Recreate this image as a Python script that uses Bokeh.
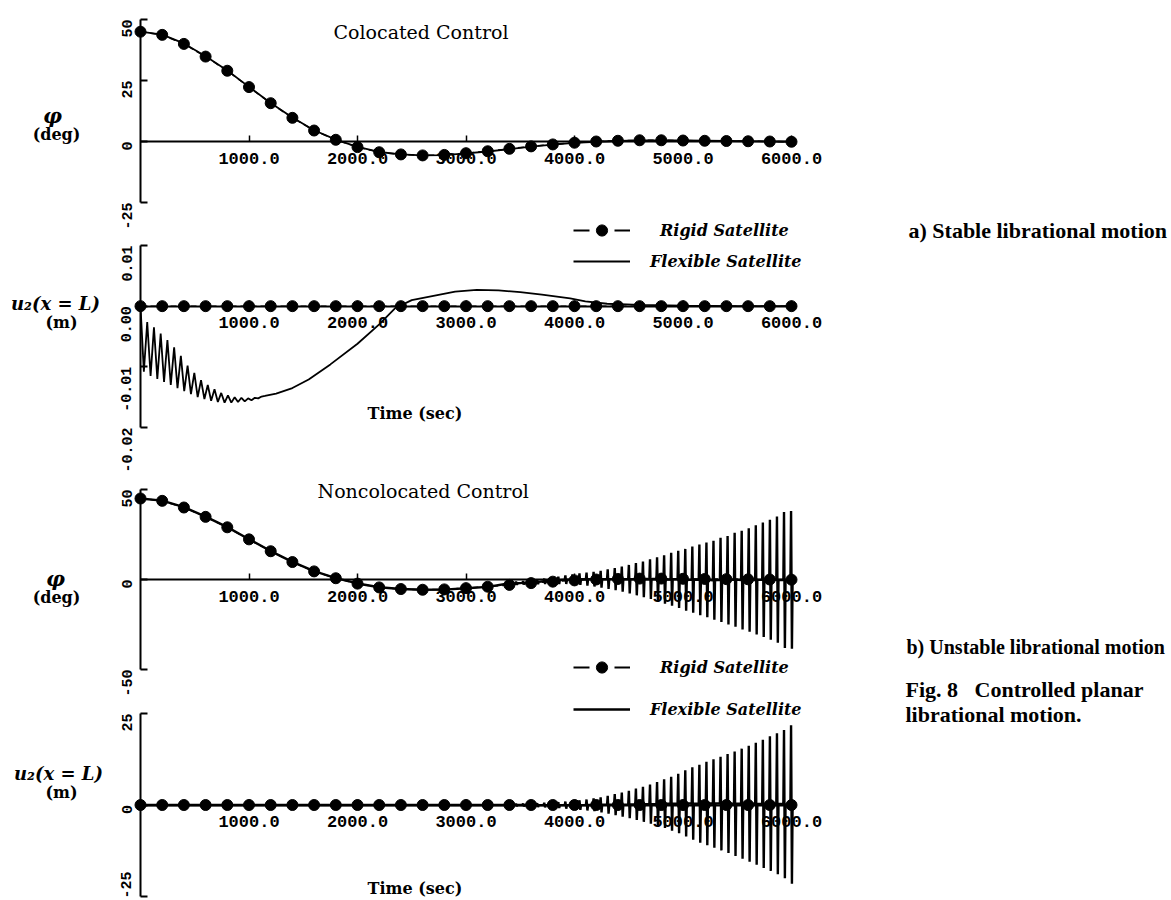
import math
import numpy as np
from bokeh.plotting import figure
from bokeh.models import Range1d, LinearAxis, FixedTicker, Label, Legend, LegendItem
from bokeh.embed import file_html
from bokeh.resources import INLINE

# ------------------------------------------------------------------ data
# rigid satellite samples (one marker every 200 s)
t_rigid = [0, 200, 400, 600, 800, 1000, 1200, 1400, 1600, 1800, 2000, 2200, 2400,
           2600, 2800, 3000, 3200, 3400, 3600, 3800, 4000, 4200, 4400, 4600, 4800,
           5000, 5200, 5400, 5600, 5800, 6000]
phi_rigid = [45.0, 43.7, 40.0, 34.8, 29.0, 22.3, 15.7, 9.7, 4.5, 0.7, -2.3, -4.4, -5.3,
             -5.7, -5.5, -4.8, -4.0, -3.0, -2.0, -1.2, -0.5, 0.0, 0.3, 0.5, 0.5,
             0.4, 0.3, 0.2, 0.1, 0.0, -0.1]
u2_rigid = [0.0] * len(t_rigid)

# a) colocated control, flexible satellite
phi_flex_col = [45.0, 43.8, 40.2, 34.9, 29.1, 22.4, 15.8, 9.8, 4.6, 0.8, -2.2, -4.3, -5.3,
                -5.7, -5.6, -4.9, -4.1, -3.1, -2.1, -1.3, -0.6, -0.1, 0.2, 0.4, 0.4,
                0.4, 0.3, 0.2, 0.1, 0.0, -0.1]

# tip deflection, colocated: oscillating start (every 31 s) then smooth part
u2_col_osc_t = list(np.arange(0, 1148, 31))
u2_col_osc_v = [0.0, -0.0108, -0.0026, -0.0115, -0.0035, -0.0120, -0.0045, -0.0125,
                -0.0056, -0.0130, -0.0068, -0.0135, -0.0082, -0.0140, -0.0098, -0.0145,
                -0.0110, -0.0150, -0.0122, -0.0153, -0.0130, -0.0156, -0.0137, -0.0158,
                -0.0143, -0.0159, -0.0147, -0.0159, -0.0150, -0.0158, -0.0151, -0.0157,
                -0.0152, -0.0155, -0.0151, -0.0152, -0.0149, -0.0148]
u2_col_smooth_t = [1250, 1400, 1550, 1750, 2000, 2200, 2350, 2500, 2700, 2900, 3100, 3300,
                   3500, 3700, 3960, 4100, 4300, 4600, 5000, 5500, 6000]
u2_col_smooth_v = [-0.0144, -0.0135, -0.0121, -0.0096, -0.0062, -0.0030, -0.0003, 0.0010,
                   0.0017, 0.0024, 0.0027, 0.0026, 0.0023, 0.0019, 0.0013, 0.0008,
                   0.0004, 0.0002, 0.0001, 0.0, 0.0]

# b) noncolocated control, flexible satellite: smooth until 3200 s ...
nc_smooth_t = [0, 200, 400, 600, 800, 1000, 1200, 1400, 1600, 1800, 2000, 2200, 2400,
               2600, 2800, 3000, 3200]
phi_nc_smooth = [45.0, 43.8, 40.2, 34.9, 29.1, 22.4, 15.8, 9.8, 4.6, 0.8, -2.2, -4.3,
                 -5.3, -5.7, -5.6, -4.9, -4.1]
u2_nc_smooth = [0.0] * len(nc_smooth_t)
# ... then one growing spike (upper / lower extreme) roughly every 65 s
nc_cycle_t = list(np.arange(3400, 6001, 65))
phi_nc_up = [-1.5, -1.2, -0.9, -0.4, 0.0, 0.5, 1.1, 1.6, 2.3, 2.8,
             3.4, 3.8, 4.2, 4.8, 5.6, 6.4, 7.2, 8.1, 9.2, 10.0,
             11.2, 12.3, 13.4, 14.8, 16.0, 17.0, 18.3, 19.4, 20.6, 21.5,
             23.2, 24.1, 26.0, 27.1, 28.5, 30.2, 31.6, 33.2, 35.0, 37.5,
             38.0]
phi_nc_dn = [-3.0, -2.9, -2.8, -2.7, -2.6, -2.5, -2.5, -2.5, -2.5, -2.7,
             -3.0, -3.4, -3.9, -4.6, -5.2, -6.0, -6.8, -7.8, -8.8, -9.9,
             -10.8, -12.0, -13.5, -14.6, -15.8, -17.4, -18.5, -19.8, -21.0, -22.4,
             -23.6, -25.0, -26.2, -27.8, -29.0, -30.5, -32.0, -33.5, -35.2, -38.0,
             -38.5]
u2_nc_up = [0.3, 0.35, 0.4, 0.45, 0.5, 0.6, 0.7, 0.8, 0.95, 1.1,
            1.3, 1.5, 1.8, 2.1, 2.5, 3.0, 3.4, 3.9, 4.5, 5.0,
            5.6, 6.3, 7.0, 7.7, 8.5, 9.5, 10.3, 11.0, 11.8, 12.5,
            13.2, 13.9, 14.6, 15.4, 16.2, 17.0, 17.8, 18.8, 19.6, 20.5,
            21.8]
u2_nc_dn = [-0.3, -0.35, -0.4, -0.45, -0.55, -0.65, -0.75, -0.85, -1.0, -1.15,
            -1.35, -1.5, -1.7, -2.0, -2.4, -2.8, -3.2, -3.6, -4.1, -4.6,
            -5.1, -5.7, -6.3, -7.0, -7.7, -8.6, -9.5, -10.3, -11.0, -11.7,
            -12.4, -13.1, -13.9, -14.7, -15.5, -16.3, -17.2, -18.0, -18.9, -20.0,
            -21.5]

# ticks
x_ticks = [1000, 2000, 3000, 4000, 5000, 6000]
x_tick_labels = ["1000.0", "2000.0", "3000.0", "4000.0", "5000.0", "6000.0"]
phi_a_ticks = [-25, 0, 25, 50]
phi_a_labels = ["-25", "0", "25", "50"]
u2_a_ticks = [-0.02, -0.01, 0.0, 0.01]
u2_a_labels = ["-0.02", "-0.01", "0.00", "0.01"]
phi_b_ticks = [-50, 0, 50]
phi_b_labels = ["-50", "0", "50"]
u2_b_ticks = [-25, 0, 25]
u2_b_labels = ["-25", "0", "25"]

# ------------------------------------------------------------------ layout
W, H = 1170, 898
PX0, PX6 = 140, 791                  # canvas x of t=0 and t=6000
K = (PX6 - PX0) / 6000.0

# (value top, value bottom, canvas y top, canvas y bottom)
PANELS = {
    "default": (50, -25, 19, 202),
    "p2": (0.01, -0.02, 245, 427),
    "p3": (50, -50, 489, 669),
    "p4": (25, -25, 713, 896),
}


def make_range(vt, vb, pt, pb):
    s = (pb - pt) / (vt - vb)
    return Range1d(vb - (H - pb) / s, vt + pt / s)


def px2x(px):
    return (px - PX0) / K


def py2y(py, name="default"):
    vt, vb, pt, pb = PANELS[name]
    return vt - (py - pt) * (vt - vb) / (pb - pt)


def spikes(t0, v0, cyc_t, ups, dns):
    """Smooth part followed by narrow up/down spikes at each cycle time."""
    ts, vs = list(t0), list(v0)
    for tc, u, d in zip(cyc_t, ups, dns):
        mid = (u + d) / 2.0
        ts += [tc - 10, tc - 4, tc + 4, tc + 10]
        vs += [mid, u, d, mid]
    return ts, vs


x_range = Range1d(px2x(0), px2x(W))
p = figure(width=W, height=H, x_range=x_range, y_range=make_range(*PANELS["default"]),
           x_axis_type=None, y_axis_type=None, toolbar_location=None,
           output_backend="svg", min_border=0, outline_line_color=None)
p.extra_y_ranges = {k: make_range(*v) for k, v in PANELS.items() if k != "default"}
p.background_fill_color = "white"
p.border_fill_color = "white"

TICK_FONT = "Liberation Mono"


def add_axes(rname, ticks, labels):
    vt, vb, _, _ = PANELS[rname]
    xa = LinearAxis(y_range_name=rname, fixed_location=0, bounds=(0, 6000),
                    ticker=FixedTicker(ticks=x_ticks),
                    major_label_overrides=dict(zip(x_ticks, x_tick_labels)),
                    major_tick_in=6, major_tick_out=0, minor_tick_in=0, minor_tick_out=0,
                    axis_line_width=1.8, axis_line_color="black",
                    major_tick_line_width=1.5, major_tick_line_color="black",
                    major_label_standoff=11, major_label_text_font=TICK_FONT,
                    major_label_text_font_style="bold", major_label_text_font_size="17px",
                    major_label_text_color="black")
    p.add_layout(xa, "below")
    ya = LinearAxis(y_range_name=rname, fixed_location=0, bounds=(vb, vt),
                    ticker=FixedTicker(ticks=ticks),
                    major_label_overrides=dict(zip(ticks, labels)),
                    major_label_orientation=math.pi / 2,
                    major_tick_in=7, major_tick_out=0, minor_tick_in=0, minor_tick_out=0,
                    axis_line_width=2, axis_line_color="black",
                    major_tick_line_width=1.8, major_tick_line_color="black",
                    major_label_standoff=14, major_label_text_font=TICK_FONT,
                    major_label_text_font_style="bold", major_label_text_font_size="15px",
                    major_label_text_color="black")
    p.add_layout(ya, "left")


add_axes("default", phi_a_ticks, phi_a_labels)
add_axes("p2", u2_a_ticks, u2_a_labels)
add_axes("p3", phi_b_ticks, phi_b_labels)
add_axes("p4", u2_b_ticks, u2_b_labels)

# ------------------------------------------------------------------ curves
FLEX_W = 1.8
f1 = p.line(t_rigid, phi_flex_col, line_color="black", line_width=FLEX_W)
f2 = p.line(u2_col_osc_t + u2_col_smooth_t, u2_col_osc_v + u2_col_smooth_v,
            line_color="black", line_width=FLEX_W, y_range_name="p2")
t3, v3 = spikes(nc_smooth_t, phi_nc_smooth, nc_cycle_t, phi_nc_up, phi_nc_dn)
f3 = p.line(t3, v3, line_color="black", line_width=2.4, y_range_name="p3")
t4, v4 = spikes(nc_smooth_t, u2_nc_smooth, nc_cycle_t, u2_nc_up, u2_nc_dn)
f4 = p.line(t4, v4, line_color="black", line_width=2.4, y_range_name="p4")

dots = {}
for rname, vals in (("default", phi_rigid), ("p2", u2_rigid),
                    ("p3", phi_rigid), ("p4", u2_rigid)):
    p.line(t_rigid, vals, line_color="black", line_width=1.5, line_dash="6 4",
           y_range_name=rname)
    dots[rname] = p.scatter(t_rigid, vals, size=11, color="black", y_range_name=rname)

# key-only dashed stroke for the "— ● —" legend symbol (NaN data: nothing drawn in the plot)
key_dash = p.line(x=np.array([np.nan, np.nan]), y=np.array([np.nan, np.nan]),
                  line_color="black", line_width=2, line_dash="16 25")


def add_legend(label, renderers, cy, gh, standoff):
    lg = Legend(items=[LegendItem(label=label, renderers=renderers)],
                location=(573, H - (cy + gh / 2)),
                glyph_width=57, glyph_height=gh, label_height=gh, label_standoff=standoff,
                padding=0, margin=0, spacing=0, border_line_color=None,
                background_fill_alpha=0, label_text_font="DejaVu Serif",
                label_text_font_style="bold italic", label_text_font_size="16px",
                label_text_color="black")
    p.add_layout(lg)


add_legend("Rigid Satellite", [key_dash, dots["p2"]], 230, 28, 30)
add_legend("Flexible Satellite", [f2], 261, 20, 20)
add_legend("Rigid Satellite", [key_dash, dots["p3"]], 667, 28, 30)
add_legend("Flexible Satellite", [f4], 709, 20, 20)

# ------------------------------------------------------------------ texts


def text(px, py, s, font="DejaVu Serif", size="16px", style="normal", align="left"):
    p.add_layout(Label(x=px2x(px), y=py2y(py), text=s, text_font=font,
                       text_font_size=size, text_font_style=style, text_align=align,
                       text_baseline="middle", text_color="black"))


text(333, 31, "Colocated Control", size="19px")
text(317, 490, "Noncolocated Control", size="19px")
text(367, 413, "Time (sec)", style="bold")
text(367, 888, "Time (sec)", style="bold")

text(52, 115, "φ", size="21px", style="bold italic", align="center")
text(56, 134, "(deg)", size="16px", style="bold", align="center")
text(55, 578, "φ", size="21px", style="bold italic", align="center")
text(56, 597, "(deg)", size="16px", style="bold", align="center")
text(55, 303, "u₂(x = L)", size="18px", style="bold italic", align="center")
text(61, 322, "(m)", size="16px", style="bold", align="center")
text(58, 773, "u₂(x = L)", size="18px", style="bold italic", align="center")
text(61, 792, "(m)", size="16px", style="bold", align="center")

text(908, 230, "a) Stable librational motion", font="Liberation Serif", size="22px", style="bold")
text(906, 646, "b) Unstable librational motion", font="Liberation Serif", size="20px", style="bold")
text(905, 689, "Fig. 8\u00a0\u00a0\u00a0Controlled planar", font="Liberation Serif", size="22px", style="bold")
text(905, 714, "librational motion.", font="Liberation Serif", size="22px", style="bold")

open("out.html", "w").write(file_html(p, INLINE))
